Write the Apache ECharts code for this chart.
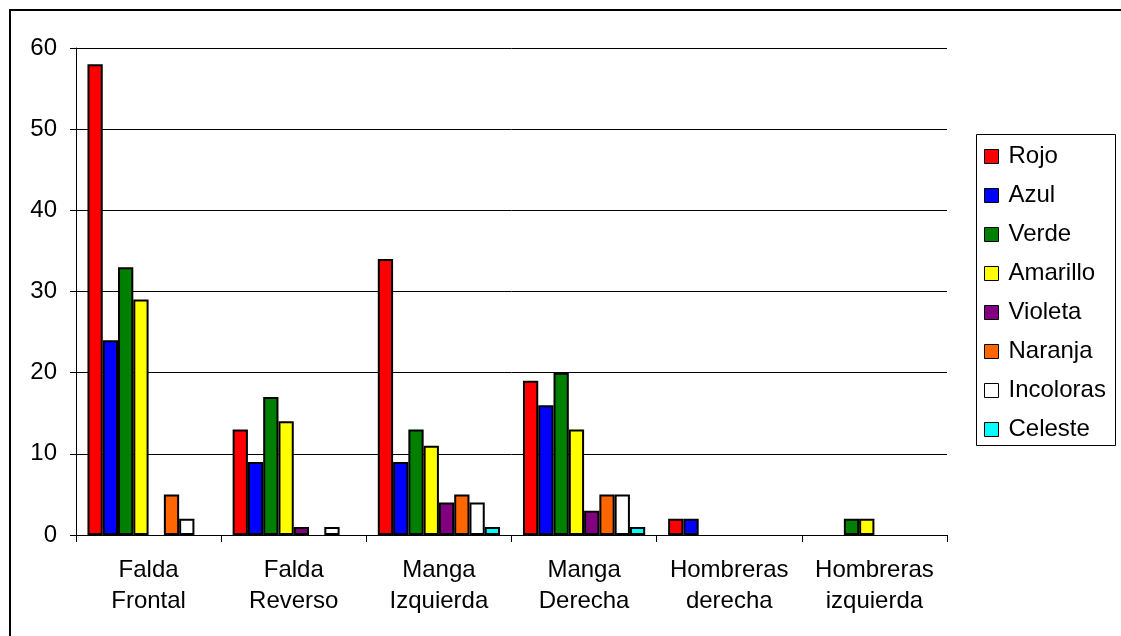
<!DOCTYPE html>
<html>
<head>
<meta charset="utf-8">
<title>Prendas por color</title>
<style>
  html, body { margin: 0; padding: 0; background: #fff; }
  #container { width: 1121px; height: 636px; }
</style>
</head>
<body>
<div id="container"></div>
<script src="https://cdn.jsdelivr.net/npm/echarts@6/dist/echarts.min.js"></script>
<script>
var categories = ['Falda\nFrontal', 'Falda\nReverso', 'Manga\nIzquierda', 'Manga\nDerecha', 'Hombreras\nderecha', 'Hombreras\nizquierda'];
var seriesNames = ['Rojo', 'Azul', 'Verde', 'Amarillo', 'Violeta', 'Naranja', 'Incoloras', 'Celeste'];
var colors = ['#ff0000', '#0000ff', '#008000', '#ffff00', '#800080', '#ff6600', '#ffffff', '#00ffff'];
var rojo      = [58, 13, 34, 19, 2, 0];
var azul      = [24,  9,  9, 16, 2, 0];
var verde     = [33, 17, 13, 20, 0, 2];
var amarillo  = [29, 14, 11, 13, 0, 2];
var violeta   = [ 0,  1,  4,  3, 0, 0];
var naranja   = [ 5,  0,  5,  5, 0, 0];
var incoloras = [ 2,  1,  4,  5, 0, 0];
var celeste   = [ 0,  0,  1,  1, 0, 0];
var values = [rojo, azul, verde, amarillo, violeta, naranja, incoloras, celeste];

var chart = echarts.init(document.getElementById('container'));

var series = seriesNames.map(function (name, i) {
    return {
        name: name,
        type: 'bar',
        barGap: '0%',
        barCategoryGap: '15.8%',
        animation: false,
        itemStyle: { color: colors[i], borderColor: '#000', borderWidth: 2 },
        // ceros no se dibujan
        data: values[i].map(function (v) { return v === 0 ? null : v; })
    };
});

chart.setOption({
    backgroundColor: '#fff',
    textStyle: { fontFamily: 'Liberation Sans, Arial, sans-serif' },
    graphic: [{
        type: 'rect',
        shape: { x: 10, y: 10, width: 1200, height: 700 },
        style: { fill: 'none', stroke: '#000', lineWidth: 2 },
        silent: true
    }, {
        // caja de la leyenda
        type: 'rect',
        shape: { x: 976.5, y: 134.5, width: 139, height: 311 },
        style: { fill: 'none', stroke: '#000', lineWidth: 1 },
        silent: true
    }],
    grid: { left: 76, right: 174, top: 48, bottom: 101 },
    legend: {
        orient: 'vertical',
        left: 984,
        top: 144,
        padding: 0,
        itemGap: 14,
        itemWidth: 14,
        itemHeight: 14,
        icon: 'rect',
        data: seriesNames,
        textStyle: { fontSize: 24, color: '#000', lineHeight: 25, padding: [0, 0, 0, 5] },
        itemStyle: { borderColor: '#000', borderWidth: 1 }
    },
    xAxis: {
        type: 'category',
        data: categories,
        axisLine: { lineStyle: { color: '#000', width: 1 } },
        axisTick: { show: true, length: 7, alignWithLabel: false, lineStyle: { color: '#000' } },
        axisLabel: { interval: 0, fontSize: 24, color: '#000', lineHeight: 31, margin: 20 }
    },
    yAxis: {
        type: 'value',
        min: 0,
        max: 60,
        interval: 10,
        axisLine: { show: true, lineStyle: { color: '#000', width: 1 } },
        axisTick: { show: true, length: 6, lineStyle: { color: '#000' } },
        axisLabel: { fontSize: 24, color: '#000', margin: 19 },
        splitLine: { lineStyle: { color: '#000', width: 1 } }
    },
    series: series
});
</script>
</body>
</html>
